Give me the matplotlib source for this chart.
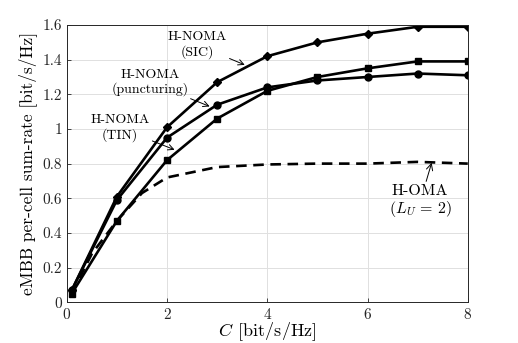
import matplotlib
matplotlib.use("Agg")
import matplotlib.pyplot as plt

plt.rcParams['font.family'] = 'serif'
plt.rcParams['font.serif'] = ['cmr10', 'DejaVu Serif']
plt.rcParams['mathtext.fontset'] = 'cm'
plt.rcParams['axes.formatter.use_mathtext'] = True

C = [0.1, 1, 2, 3, 4, 5, 6, 7, 8]
sic = [0.07, 0.61, 1.01, 1.27, 1.42, 1.50, 1.55, 1.59, 1.59]
punct = [0.07, 0.59, 0.95, 1.14, 1.24, 1.28, 1.30, 1.32, 1.31]
tin = [0.05, 0.47, 0.82, 1.06, 1.22, 1.30, 1.35, 1.39, 1.39]
C_oma = [0.1, 0.5, 1, 1.5, 2, 3, 4, 5, 6, 7, 8]
oma = [0.05, 0.28, 0.47, 0.63, 0.72, 0.78, 0.795, 0.80, 0.80, 0.81, 0.80]

xticks = [0, 2, 4, 6, 8]
yticks = [0, 0.2, 0.4, 0.6, 0.8, 1, 1.2, 1.4, 1.6]
yticklabels = ['0', '0.2', '0.4', '0.6', '0.8', '1', '1.2', '1.4', '1.6']

fig = plt.figure(figsize=(5.18, 3.43), dpi=100)
ax = fig.add_axes([0.129, 0.119, 0.774, 0.808])

lw = 1.9
ax.plot(C, sic, '-k', marker='D', ms=4.5, lw=lw)
ax.plot(C, punct, '-k', marker='o', ms=5, lw=lw)
ax.plot(C, tin, '-k', marker='s', ms=4.5, lw=lw)
ax.plot(C_oma, oma, '--k', lw=lw, dashes=(4, 2.5))

ax.set_xlim(0, 8)
ax.set_ylim(0, 1.6)
ax.set_xticks(xticks)
ax.set_yticks(yticks)
ax.set_yticklabels(yticklabels)
ax.grid(True, color='#e0e0e0', lw=0.7)
ax.set_axisbelow(True)
for s in ax.spines.values():
    s.set_color('#262626')
    s.set_linewidth(0.7)
ax.tick_params(direction='in', length=3, width=0.6, labelsize=11, colors='#262626')
ax.tick_params(axis='x', pad=3.5)

ax.set_xlabel(r'$C\;\,$[bit/s/Hz]', fontsize=13, labelpad=-1)
ax.set_ylabel('eMBB per-cell sum-rate [bit/s/Hz]', fontsize=12.5, labelpad=4)

fs = 10
ap = dict(arrowstyle='->', color='k', lw=0.7, shrinkA=0, shrinkB=0)
ax.annotate('H-NOMA\n(SIC)', xy=(3.55, 1.37), xytext=(2.6, 1.485), ha='center', va='center',
            fontsize=fs, linespacing=1.15, arrowprops=ap)
ax.annotate('H-NOMA\n(puncturing)', xy=(2.85, 1.13), xytext=(1.66, 1.27), ha='center', va='center',
            fontsize=fs, linespacing=1.15, arrowprops=ap)
ax.annotate('H-NOMA\n(TIN)', xy=(2.15, 0.88), xytext=(1.06, 1.005), ha='center', va='center',
            fontsize=fs, linespacing=1.15, arrowprops=ap)
ax.annotate('H-OMA\n($L_U\\,=\\,2$)', xy=(7.28, 0.805), xytext=(7.05, 0.58), ha='center', va='center',
            fontsize=11.5, linespacing=1.1, arrowprops=ap)

fig.savefig('out.png', dpi=100)
